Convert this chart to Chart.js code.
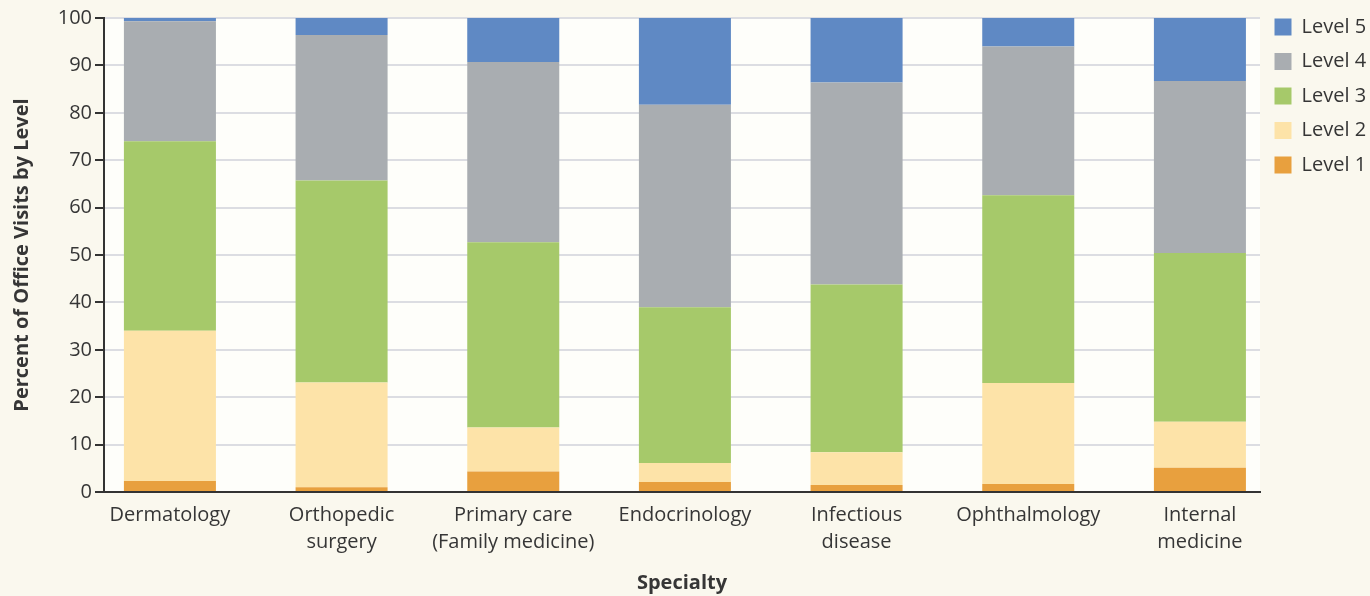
<!DOCTYPE html>
<html>
<head>
<meta charset="utf-8">
<script src="https://cdn.jsdelivr.net/npm/chart.js@4.4.0/dist/chart.umd.min.js"></script>
<style>
  html, body { margin: 0; padding: 0; background: #faf8ee; }
  #wrap { width: 1370px; height: 596px; }
</style>
</head>
<body>
<div id="wrap"><canvas id="myChart" width="1370" height="596"></canvas></div>
<script>
// specialties on the x axis (multi-line labels)
const specialties = [
  ['Dermatology'],
  ['Orthopedic', 'surgery'],
  ['Primary care', '(Family medicine)'],
  ['Endocrinology'],
  ['Infectious', 'disease'],
  ['Ophthalmology'],
  ['Internal', 'medicine']
];

// percent of office visits by level
const level1 = [2.3, 1.0, 4.3, 2.1, 1.5, 1.7, 5.1];
const level2 = [31.7, 22.1, 9.3, 4.0, 6.9, 21.3, 9.7];
const level3 = [40.0, 42.6, 39.1, 32.9, 35.4, 39.6, 35.6];
const level4 = [25.3, 30.7, 38.0, 42.7, 42.6, 31.4, 36.3];
const level5 = [0.7, 3.6, 9.3, 18.3, 13.6, 6.0, 13.3];

const levelNames = ['Level 1', 'Level 2', 'Level 3', 'Level 4', 'Level 5'];
const yTicks = [0, 10, 20, 30, 40, 50, 60, 70, 80, 90, 100];

const colors = ['#e8a03e', '#fde3a8', '#a6c96a', '#a9adb1', '#5f89c4'];
const FONT = "'Open Sans', sans-serif";
const TXT = '#363636';

const toPoints = (arr) => arr.map((v, i) => ({ x: i, y: v }));

const plotBg = {
  id: 'plotBg',
  afterLayout(chart) {
    // pull the legend up so Level 5 sits at the top of the plot
    chart.legend.top = 2.5;
  },
  beforeDraw(chart) {
    const { ctx, chartArea: a } = chart;
    ctx.save();
    ctx.fillStyle = '#faf8ee';
    ctx.fillRect(0, 0, chart.width, chart.height);
    ctx.fillStyle = '#fefefa';
    ctx.fillRect(a.left, a.top, a.right - a.left, a.bottom - a.top);
    ctx.restore();
  }
};

const datasets = [level1, level2, level3, level4, level5].map((d, i) => ({
  label: levelNames[i],
  data: toPoints(d),
  backgroundColor: colors[i],
  borderWidth: 0
}));

new Chart(document.getElementById('myChart').getContext('2d'), {
  type: 'bar',
  data: { datasets },
  plugins: [plotBg],
  options: {
    responsive: false,
    animation: false,
    categoryPercentage: 1,
    barPercentage: 0.536,
    layout: { padding: { top: 18, left: 0, right: 0, bottom: 0 } },
    plugins: {
      tooltip: { enabled: false },
      legend: {
        position: 'right',
        align: 'start',
        reverse: true,
        maxWidth: 110,
        labels: {
          boxWidth: 17,
          boxHeight: 17,
          padding: 14.5,
          color: TXT,
          font: { family: FONT, size: 20 }
        }
      }
    },
    scales: {
      x: {
        type: 'linear',
        stacked: true,
        offset: false,
        min: -0.384,
        max: 6.35,
        grid: { display: false },
        border: { display: true, color: '#333', width: 2 },
        afterFit(scale) { scale.height = 104; },
        afterBuildTicks(scale) {
          scale.ticks = specialties.map((s, i) => ({ value: i }));
        },
        ticks: {
          autoSkip: false,
          maxRotation: 0,
          padding: 2,
          color: TXT,
          font: { family: FONT, size: 20, lineHeight: 1.35 },
          callback: (v) => specialties[v]
        },
        title: {
          display: true,
          text: 'Specialty',
          color: TXT,
          padding: { top: 0, bottom: 1 },
          font: { family: FONT, size: 20, weight: '700' }
        }
      },
      y: {
        stacked: true,
        min: 0,
        max: 100,
        afterFit(scale) { scale.width = 104; },
        afterBuildTicks(scale) {
          scale.ticks = yTicks.map(v => ({ value: v }));
        },
        grid: {
          color: '#dcdde2',
          lineWidth: 2,
          tickColor: '#333',
          tickLength: 9,
          drawTicks: true
        },
        border: { display: true, color: '#333', width: 2 },
        ticks: {
          padding: 3,
          color: TXT,
          font: { family: FONT, size: 20 }
        },
        title: {
          display: true,
          text: 'Percent of Office Visits by Level',
          color: TXT,
          padding: { top: 10, bottom: 4 },
          font: { family: FONT, size: 20, weight: '700' }
        }
      }
    }
  }
});
</script>
</body>
</html>
